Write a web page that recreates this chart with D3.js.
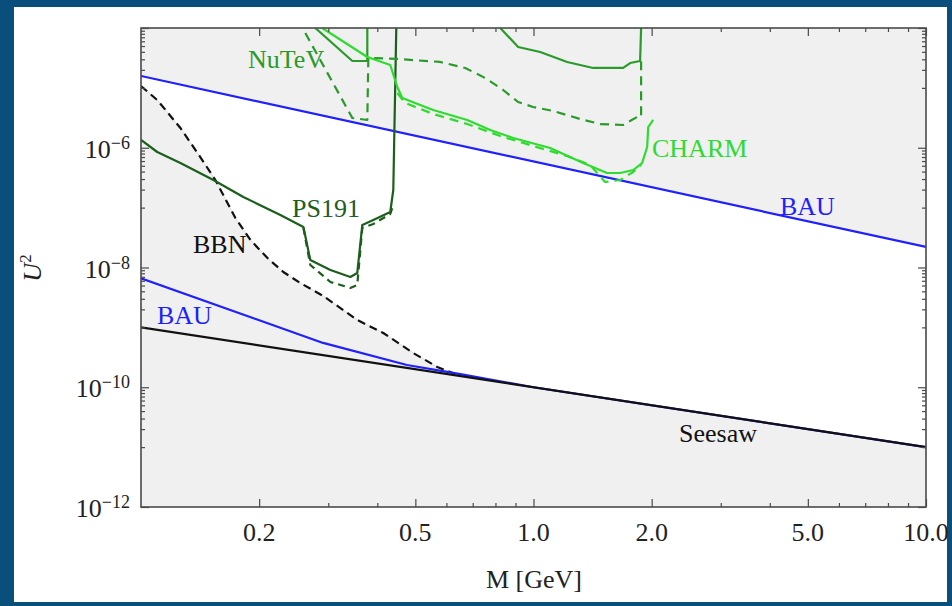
<!DOCTYPE html>
<html>
<head>
<meta charset="utf-8">
<script src="https://cdn.jsdelivr.net/npm/d3@7"></script>
<style>
body { margin: 0; background: #0a4e7c; }
svg { display: block; }
</style>
</head>
<body>
<div id="chart"></div>
<script>
// DATA ------------------------------------------------------------
// mass M in GeV, mixing U^2
var bauUpperM = [0.1, 10];
var bauUpperU = [1.58e-5, 2.2e-8];

var seesawM = [0.1, 10];
var seesawU = [1e-9, 1e-11];

var bauLowerM = [0.1, 0.291, 0.476, 0.651, 1.0, 10];
var bauLowerU = [6.6e-9, 5.5e-10, 2.35e-10, 1.66e-10, 1.0e-10, 1e-11];

var bbnM = [0.1, 0.110, 0.126, 0.1416, 0.1547, 0.174, 0.190, 0.210, 0.2305, 0.2546, 0.2914, 0.3556, 0.4143, 0.494, 0.5686, 0.6318];
var bbnU = [1.075e-5, 6.27e-6, 2.14e-6, 7.0e-7, 2.89e-7, 6.71e-8, 2.88e-8, 1.44e-8, 8.41e-9, 5.51e-9, 3.34e-9, 1.33e-9, 8.05e-10, 3.73e-10, 2.18e-10, 1.66e-10];

var ps191M = [0.1, 0.110, 0.126, 0.1529, 0.1823, 0.2265, 0.2593, 0.270, 0.3038, 0.3415, 0.3556, 0.3663, 0.3907, 0.4316, 0.4393, 0.4471];
var ps191U = [1.347e-6, 8.49e-7, 5.56e-7, 2.89e-7, 1.505e-7, 7.53e-8, 4.75e-8, 1.335e-8, 9.08e-9, 6.94e-9, 8.09e-9, 5.13e-8, 6.21e-8, 8.45e-8, 1.97e-7, 1e-4];

var ps191DashM = [0.2593, 0.270, 0.3038, 0.3415, 0.3556, 0.3663, 0.3907, 0.4316, 0.4393];
var ps191DashU = [4.57e-8, 1.10e-8, 5.73e-9, 4.55e-9, 5.10e-9, 4.57e-8, 5.33e-8, 7.82e-8, 1.106e-7];

var nutevM = [0.278, 0.3455, 0.3772, 0.3772];
var nutevU = [1e-4, 2.81e-5, 2.81e-5, 1e-4];

var nutevDashM = [0.2622, 0.3455, 0.3772, 0.3795, 0.4497, 0.5785, 0.670, 0.7534, 0.837, 0.914, 0.998, 1.122, 1.315, 1.479, 1.692, 1.836, 1.880, 1.880];
var nutevDashU = [8.25e-5, 3.14e-6, 2.91e-6, 3.16e-5, 3.04e-5, 2.71e-5, 2.15e-5, 1.46e-5, 9.22e-6, 5.81e-6, 4.79e-6, 4.11e-6, 3.02e-6, 2.49e-6, 2.40e-6, 3.26e-6, 3.26e-6, 2.81e-5];

var charmTopM = [0.8227, 0.914, 1.040, 1.218, 1.419, 1.692, 1.763, 1.869, 1.880];
var charmTopU = [1e-4, 4.82e-5, 3.97e-5, 2.71e-5, 2.15e-5, 2.15e-5, 2.60e-5, 2.81e-5, 1e-4];

var charmM = [0.2895, 0.3772, 0.4316, 0.4497, 0.4631, 0.5552, 0.6781, 0.7757, 0.8877, 1.103, 1.338, 1.540, 1.663, 1.795, 1.891, 1.948, 1.960, 2.018];
var charmU = [1e-4, 3.28e-5, 2.41e-5, 1.034e-5, 6.78e-6, 4.27e-6, 2.91e-6, 1.98e-6, 1.455e-6, 9.90e-7, 5.56e-7, 3.79e-7, 3.79e-7, 4.25e-7, 5.56e-7, 1.03e-6, 2.22e-6, 2.91e-6];

var charmDashM = [0.4497, 0.4714, 0.5552, 0.6781, 0.8227, 0.998, 1.218, 1.394, 1.522, 1.663, 1.795, 1.880];
var charmDashU = [8.21e-6, 5.59e-6, 3.66e-6, 2.49e-6, 1.57e-6, 1.07e-6, 7.28e-7, 5.15e-7, 2.68e-7, 2.89e-7, 3.94e-7, 5.15e-7];

// ticks
var xMajor = [0.2, 0.5, 1, 2, 5, 10];
var xTickLabels = ["0.2", "0.5", "1.0", "2.0", "5.0", "10.0"];
var xMinor = [0.3, 0.4, 0.6, 0.7, 0.8, 0.9, 3, 4, 6, 7, 8, 9];
var yMajor = [1e-12, 1e-10, 1e-8, 1e-6, 1e-4];
var yLabelValues = [1e-12, 1e-10, 1e-8, 1e-6];
var yLabelExps = ["\u221212", "\u221210", "\u22128", "\u22126"];
var yMinorDecades = [1e-11, 1e-9, 1e-7, 1e-5];
var yMinorSteps = [1, 2, 3, 4, 5, 6, 7, 8, 9];

// LAYOUT ------------------------------------------------------------
var W = 952, H = 606;
var plot = {left: 141, right: 926, top: 28, bottom: 507};
var font = "'Liberation Serif', 'DejaVu Serif', serif";

var colors = {
	blue: '#1f1fff',
	dark: '#1c5e1c',
	mid: '#2a9a2a',
	bright: '#2edb2e',
	frame: '#4a4a4a',
	shade: '#f0f0f0'
};

var svg = d3.select("#chart")
	.append("svg")
	.attr("width", W)
	.attr("height", H);

svg.append("rect")
	.attr("x", 14).attr("y", 7)
	.attr("width", 933).attr("height", 595)
	.attr("fill", "#ffffff");

var x = d3.scaleLog().domain([0.1, 10]).range([plot.left, plot.right]);
var y = d3.scaleLog().domain([1e-12, 1e-4]).range([plot.bottom, plot.top]);

var line = d3.line()
	.x(function(d) { return x(d[0]); })
	.y(function(d) { return y(d[1]); });

svg.append("clipPath").attr("id", "clip")
	.append("rect")
	.attr("x", plot.left).attr("y", plot.top)
	.attr("width", plot.right - plot.left)
	.attr("height", plot.bottom - plot.top);

var g = svg.append("g").attr("clip-path", "url(#clip)");

// shaded background, excluded regions
g.append("rect")
	.attr("x", plot.left).attr("y", plot.top)
	.attr("width", plot.right - plot.left)
	.attr("height", plot.bottom - plot.top)
	.attr("fill", colors.shade);

// allowed (white) region: below upper BAU, above BBN / lower BAU
var upper = d3.zip(bauUpperM, bauUpperU);
var lowerPart = d3.zip(bauLowerM, bauLowerU).filter(function(d) { return d[0] > 0.7; });
var bottom = d3.zip(bbnM, bbnU).concat(lowerPart);
var region = upper.concat(bottom.slice().reverse());

g.append("path")
	.attr("d", line(region) + "Z")
	.attr("fill", "#ffffff")
	.attr("stroke", "#d8d8d8")
	.attr("stroke-width", 0.8);

function curve(ms, us, color, dash, width) {
	g.append("path")
		.attr("d", line(d3.zip(ms, us)))
		.attr("fill", "none")
		.attr("stroke", color)
		.attr("stroke-width", width || 2.2)
		.attr("stroke-linejoin", "round")
		.attr("stroke-dasharray", dash || null);
}

curve(bbnM, bbnU, "#111111", "8,5");
curve(bauLowerM, bauLowerU, colors.blue);
curve(seesawM, seesawU, "#111111");
curve(bauUpperM, bauUpperU, colors.blue);
curve(ps191DashM, ps191DashU, colors.dark, "7,5");
curve(ps191M, ps191U, colors.dark);
curve(nutevDashM, nutevDashU, colors.mid, "9,6");
curve(nutevM, nutevU, colors.mid);
curve(charmTopM, charmTopU, colors.mid);
curve(charmDashM, charmDashU, colors.bright, "9,6");
curve(charmM, charmU, colors.bright);

// AXES ------------------------------------------------------------
var yMinor = [];
yMinorDecades.forEach(function(dec) {
	yMinorSteps.forEach(function(s) { yMinor.push(s * dec); });
});

function drawAxis(axisFn, scale, values, size, tx, ty) {
	var a = svg.append("g")
		.attr("transform", "translate(" + tx + "," + ty + ")")
		.call(axisFn(scale).tickValues(values).tickSizeInner(-size).tickSizeOuter(0).tickFormat(""));
	a.select(".domain").remove();
	a.selectAll("line").attr("stroke", colors.frame).attr("stroke-width", 1.2);
	return a;
}

drawAxis(d3.axisBottom, x, xMajor, 8, 0, plot.bottom);
drawAxis(d3.axisBottom, x, xMinor, 4, 0, plot.bottom);
drawAxis(d3.axisTop, x, xMajor, 8, 0, plot.top);
drawAxis(d3.axisTop, x, xMinor, 4, 0, plot.top);
drawAxis(d3.axisLeft, y, yMajor, 8, plot.left, 0);
drawAxis(d3.axisLeft, y, yMinor, 4, plot.left, 0);
drawAxis(d3.axisRight, y, yMajor, 8, plot.right, 0);
drawAxis(d3.axisRight, y, yMinor, 4, plot.right, 0);

svg.append("rect")
	.attr("x", plot.left).attr("y", plot.top)
	.attr("width", plot.right - plot.left)
	.attr("height", plot.bottom - plot.top)
	.attr("fill", "none")
	.attr("stroke", colors.frame)
	.attr("stroke-width", 1.6);

// x tick labels
svg.selectAll(".xlab")
	.data(xMajor)
	.enter()
	.append("text")
	.attr("x", function(d) { return x(d); })
	.attr("y", 541)
	.attr("text-anchor", "middle")
	.attr("font-family", font)
	.attr("font-size", 26)
	.attr("fill", "#222")
	.text(function(d, i) { return xTickLabels[i]; });

// y tick labels with superscript exponent
var ylab = svg.selectAll(".ylab")
	.data(yLabelValues)
	.enter()
	.append("text")
	.attr("x", 130)
	.attr("y", function(d) { return y(d) + 10; })
	.attr("text-anchor", "end")
	.attr("font-family", font)
	.attr("font-size", 26)
	.attr("fill", "#222");
ylab.append("tspan").text("10");
ylab.append("tspan")
	.attr("dy", -9)
	.attr("font-size", 18)
	.text(function(d, i) { return yLabelExps[i]; });

// axis titles
svg.append("text")
	.attr("x", 534).attr("y", 588)
	.attr("text-anchor", "middle")
	.attr("font-family", font)
	.attr("font-size", 26)
	.attr("fill", "#222")
	.text("M [GeV]");

var ytitle = svg.append("text")
	.attr("transform", "translate(41,268) rotate(-90)")
	.attr("text-anchor", "middle")
	.attr("font-family", font)
	.attr("font-size", 26)
	.attr("fill", "#222");
ytitle.append("tspan").attr("font-style", "italic").text("U");
ytitle.append("tspan").attr("dy", -10).attr("font-size", 17).text("2");

// curve labels
var labels = [
	{t: "NuTeV", x: 248, y: 68, c: colors.mid},
	{t: "CHARM", x: 652, y: 157, c: colors.bright},
	{t: "BAU", x: 780, y: 215, c: colors.blue},
	{t: "PS191", x: 292, y: 217, c: colors.dark},
	{t: "BBN", x: 193, y: 253, c: "#111111"},
	{t: "BAU", x: 157, y: 324, c: colors.blue},
	{t: "Seesaw", x: 679, y: 442, c: "#111111"}
];
svg.selectAll(".clab")
	.data(labels)
	.enter()
	.append("text")
	.attr("x", function(d) { return d.x; })
	.attr("y", function(d) { return d.y; })
	.attr("font-family", font)
	.attr("font-size", 26)
	.attr("fill", function(d) { return d.c; })
	.text(function(d) { return d.t; });
</script>
</body>
</html>
